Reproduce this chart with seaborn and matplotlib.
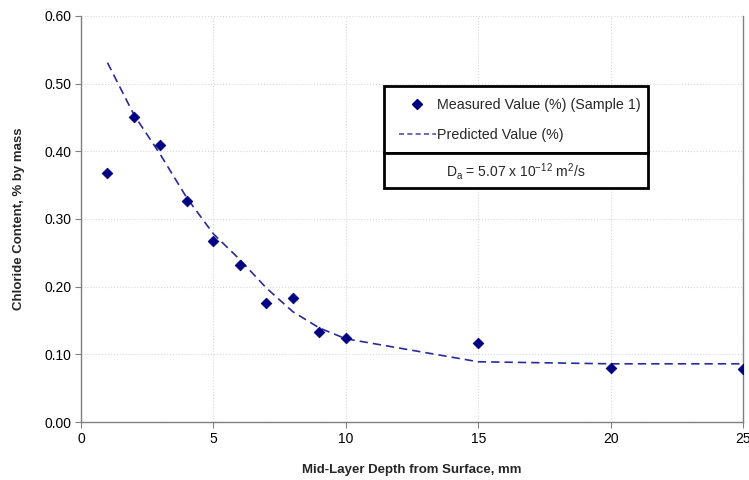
import numpy as np
import pandas as pd
import matplotlib
matplotlib.use("Agg")
import matplotlib.pyplot as plt
import seaborn as sns
from matplotlib.patches import Rectangle
from matplotlib.lines import Line2D

# data
depth = [1, 2, 3, 4, 5, 6, 7, 8, 9, 10, 15, 20, 25]
measured = [0.368, 0.451, 0.410, 0.327, 0.267, 0.232, 0.176, 0.183, 0.133, 0.124, 0.117, 0.080, 0.078]
predicted = [0.531, 0.454, 0.395, 0.331, 0.278, 0.240, 0.198, 0.163, 0.139, 0.123, 0.089, 0.086, 0.086]

df = pd.DataFrame({"depth": depth, "measured": measured, "predicted": predicted})

sns.set_theme(style="white")
plt.rcParams["font.family"] = ["Liberation Sans", "DejaVu Sans"]
plt.rcParams["mathtext.fontset"] = "custom"
plt.rcParams["mathtext.rm"] = "Liberation Sans"
plt.rcParams["mathtext.it"] = "Liberation Sans:italic"

fig = plt.figure(figsize=(7.49, 4.80), dpi=100)
ax = fig.add_axes([81 / 749, 1 - 422 / 480, (743 - 81) / 749, (422 - 16) / 480])

sns.lineplot(data=df, x="depth", y="predicted", ax=ax, color="#2a2a9a",
             linestyle=(0, (5, 3)), linewidth=1.2, label="Predicted Value (%)")
sns.scatterplot(data=df, x="depth", y="measured", ax=ax, marker="D", s=30,
                color="#000080", edgecolor="#000080", linewidth=0.5,
                label="Measured Value (%) (Sample 1)", zorder=3)

ax.set_xlim(0, 25)
ax.set_ylim(0, 0.6)
ax.set_xticks([0, 5, 10, 15, 20, 25])
ax.set_yticks(np.arange(0, 0.61, 0.1))
ax.yaxis.set_major_formatter(matplotlib.ticker.FormatStrFormatter("%.2f"))
ax.grid(True, color="#d9d9d9", linewidth=0.8, linestyle=":")
ax.set_axisbelow(True)

ax.spines["top"].set_visible(False)
for s in ["left", "bottom", "right"]:
    ax.spines[s].set_color("#808080")
    ax.spines[s].set_linewidth(1)
ax.tick_params(axis="both", direction="out", length=4, width=0.8, color="#808080",
               labelsize=10, labelcolor="black", bottom=True, left=True, pad=3)

ax.set_xlabel("Mid-Layer Depth from Surface, mm", fontsize=9.5, fontweight="bold", labelpad=13)
ax.set_ylabel("Chloride Content, % by mass", fontsize=9.5, fontweight="bold", labelpad=14)

# legend boxes
ax.get_legend().remove()
fig.patches.append(Rectangle((384 / 749, 1 - 153 / 480), 264 / 749, 67 / 480,
                             transform=fig.transFigure, fill=True, facecolor="white",
                             edgecolor="black", linewidth=2, zorder=5))
fig.patches.append(Rectangle((384 / 749, 1 - 188 / 480), 264 / 749, 35 / 480,
                             transform=fig.transFigure, fill=True, facecolor="white",
                             edgecolor="black", linewidth=2, zorder=5))
handles = [Line2D([], [], marker="D", color="#000080", linestyle="none", markersize=5),
           Line2D([], [], color="#5050b0", linestyle=(0, (3, 2)), linewidth=1.2)]
labels = ["Measured Value (%) (Sample 1)", "Predicted Value (%)"]
leg = fig.legend(handles, labels, loc="upper left", bbox_to_anchor=(386 / 749, 1 - 85 / 480),
                 frameon=False, fontsize=10.3, handlelength=2.6, handletextpad=0.05,
                 labelspacing=1.15)
leg.set_zorder(6)
fig.text(516 / 749, 1 - 171 / 480, r"D$_\mathrm{a}$ = 5.07 x 10$^{-12}$ m$^2$/s",
         ha="center", va="center", fontsize=10, zorder=7)

fig.savefig("out.png", dpi=100)
